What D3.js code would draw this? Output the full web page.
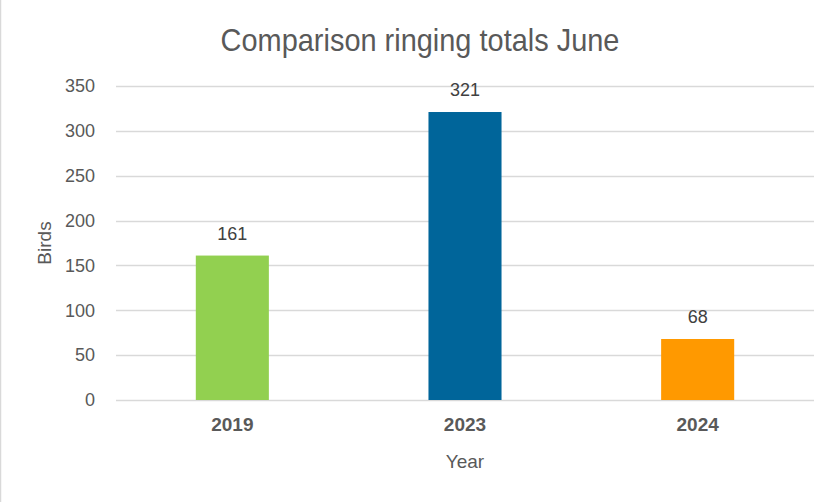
<!DOCTYPE html>
<html>
<head>
<meta charset="utf-8">
<script src="https://cdn.jsdelivr.net/npm/d3@7"></script>
<style>
  html, body { margin: 0; padding: 0; background: #fff; }
  svg { display: block; }
</style>
</head>
<body>
<svg id="chart" width="837" height="502"></svg>
<script>
const categories = ["2019", "2023", "2024"];
const values = [161, 321, 68];
const barColors = ["#92D050", "#00659A", "#FF9900"];
const yTicks = [0, 50, 100, 150, 200, 250, 300, 350];
const titleText = "Comparison ringing totals June";
const yTitle = "Birds";
const xTitle = "Year";

const W = 837, H = 502;
const margin = { left: 116, right: 23, top: 86, bottom: 102 };
const svg = d3.select("#chart");
const textColor = "#595959";

svg.append("rect").attr("x", 0).attr("y", 0).attr("width", W).attr("height", H).attr("fill", "#fff");
svg.append("line").attr("x1", 0.5).attr("x2", 0.5).attr("y1", 0).attr("y2", H)
  .attr("stroke", "#D9D9D9").attr("stroke-width", 1.5);

const x = d3.scaleBand().domain(categories).range([margin.left, W - margin.right]).padding(0);
const y = d3.scaleLinear().domain([0, 350]).range([H - margin.bottom, margin.top]);

// gridlines
svg.append("g").selectAll("line").data(yTicks).join("line")
  .attr("x1", margin.left).attr("x2", W - margin.right)
  .attr("y1", d => Math.round(y(d)) + 0.5).attr("y2", d => Math.round(y(d)) + 0.5)
  .attr("stroke", "#D9D9D9").attr("stroke-width", 1.5);

// y axis labels
const yAxis = d3.axisLeft(y).tickValues(yTicks).tickSize(0).tickPadding(21);
const gy = svg.append("g").attr("transform", `translate(${margin.left},0)`).call(yAxis);
gy.select(".domain").remove();
gy.selectAll("text").attr("fill", textColor)
  .style("font-family", "'Liberation Sans', Arial, sans-serif").style("font-size", "18px");

// bars
const barW = x.bandwidth() * 0.314;
svg.append("g").selectAll("rect").data(values).join("rect")
  .attr("x", (d, i) => x(categories[i]) + x.bandwidth() / 2 - barW / 2)
  .attr("y", d => y(d))
  .attr("width", barW)
  .attr("height", d => y(0) - y(d))
  .attr("fill", (d, i) => barColors[i]);

// data labels
svg.append("g").selectAll("text").data(values).join("text")
  .attr("x", (d, i) => x(categories[i]) + x.bandwidth() / 2)
  .attr("y", d => y(d) - 16)
  .attr("text-anchor", "middle")
  .attr("fill", "#404040")
  .style("font-family", "'Liberation Sans', Arial, sans-serif").style("font-size", "18px")
  .text(d => d);

// x axis labels
const xAxis = d3.axisBottom(x).tickSize(0).tickPadding(18);
const gx = svg.append("g").attr("transform", `translate(0,${y(0)})`).call(xAxis);
gx.select(".domain").remove();
gx.selectAll("text").attr("fill", textColor)
  .style("font-family", "'Liberation Sans', Arial, sans-serif").style("font-size", "19px")
  .style("font-weight", "bold");

// title (narrow look: horizontally condensed)
const title = svg.append("text").attr("x", 0).attr("y", 0).attr("text-anchor", "middle")
  .attr("fill", textColor)
  .style("font-family", "'Liberation Sans', sans-serif")
  .style("font-size", "32px")
  .text(titleText);
const tl = title.node().getComputedTextLength();
const sx = tl > 0 ? 399 / tl : 1;
title.attr("transform", `translate(420,51) scale(${sx},1)`);

// axis titles
svg.append("text").attr("transform", "translate(51,243) rotate(-90)")
  .attr("text-anchor", "middle").attr("fill", textColor)
  .style("font-family", "'Liberation Sans', Arial, sans-serif").style("font-size", "19px")
  .text(yTitle);
svg.append("text").attr("x", 465).attr("y", 468).attr("text-anchor", "middle")
  .attr("fill", textColor)
  .style("font-family", "'Liberation Sans', Arial, sans-serif").style("font-size", "19px")
  .text(xTitle);
</script>
</body>
</html>
